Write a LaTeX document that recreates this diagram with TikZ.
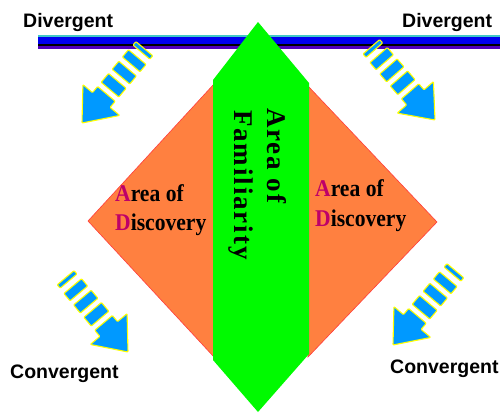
\documentclass[tikz,border=0pt]{standalone}
\usepackage{fontspec}
\setmainfont{Liberation Serif}
\newfontfamily\lsans{Liberation Sans}
\newfontfamily\famfont[LetterSpace=7]{Liberation Serif}
\definecolor{arrowblue}{RGB}{0,153,255}
\definecolor{arrowyellow}{RGB}{255,255,0}
\definecolor{areaorange}{RGB}{255,128,64}
\definecolor{areagreen}{RGB}{0,250,0}
\definecolor{barcyan}{RGB}{64,200,200}
\definecolor{barblue}{RGB}{0,0,240}
\definecolor{barpurple}{RGB}{80,0,190}
\definecolor{discmag}{RGB}{190,0,105}
\newcommand\bluearrow[3]{%
\begin{scope}[shift={(#1,#2)},rotate=#3]
 \draw[arrowpart] (0,0) -- (-30,24) -- (-30,11.5) -- (-38,11.5) -- (-38,-11.5) -- (-30,-11.5) -- (-30,-24) -- cycle;
 \draw[arrowpart] (-43.5,-11.5) rectangle (-55,11.5);
 \draw[arrowpart] (-60.5,-11.5) rectangle (-71,11.5);
 \draw[arrowpart] (-76.5,-11.5) rectangle (-86,11.5);
 \draw[arrowpart] (-92.5,-11) rectangle (-97,11);
\end{scope}}
\begin{document}
\begin{tikzpicture}[x=1pt,y=-1pt,
  arrowpart/.style={fill=arrowblue, draw=arrowyellow, line width=1.1pt, line join=round, rounded corners=0.8pt},
  orangearea/.style={fill=areaorange, draw={rgb,255:red,255;green,60;blue,60}, line width=0.6pt},
  title/.style={font=\lsans\bfseries\fontsize{19.5}{22}\selectfont, inner sep=0pt, anchor=base west},
  disc/.style={font=\bfseries\fontsize{24}{28}\selectfont, inner sep=0pt, anchor=base west, xscale=0.9},
  fam/.style={font=\famfont\bfseries\fontsize{27}{30}\selectfont, inner sep=0pt, anchor=base west, rotate=-90}]
\useasboundingbox (0,0) rectangle (500,413);
% bar
\fill[barcyan] (38,35) rectangle (500,37.3);
\fill[barblue] (38,37.3) rectangle (500,44);
\fill[black] (38,44) rectangle (500,46);
\fill[barpurple] (38,46) rectangle (500,49.3);
% orange areas
\draw[orangearea] (214,84) -- (88,221) -- (214,357) -- cycle;
\draw[orangearea] (308,86) -- (437,222) -- (308,357) -- cycle;
% green area
\fill[areagreen] (258,22) -- (309,83) -- (309,354) -- (258,412) -- (213,360) -- (213,80) -- cycle;
% arrows
\bluearrow{82}{123}{230}
\bluearrow{435}{120}{311}
\bluearrow{128}{352}{310}
\bluearrow{393}{345}{230}
% labels
\node[title] (divl) at (23,27) {Divergent};
\node[title] (divr) at (402,27) {Divergent};
\node[title] (convl) at (10,378) {Convergent};
\node[title] (convr) at (390,373) {Convergent};
\node[disc] (al) at (115,201) {\textcolor{discmag}{A}rea of};
\node[disc] (dl) at (115,230) {\textcolor{discmag}{D}iscovery};
\node[disc] (ar) at (315,196) {\textcolor{discmag}{A}rea of};
\node[disc] (dr) at (315,226) {\textcolor{discmag}{D}iscovery};
\node[fam] (fa) at (267,108) {Area of};
\node[fam] (ff) at (234,110) {Familiarity};
\end{tikzpicture}
\end{document}
